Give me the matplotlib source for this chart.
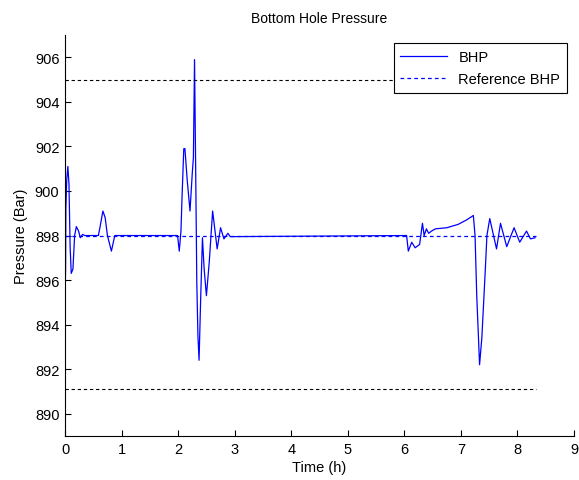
import numpy as np
import matplotlib
matplotlib.use("Agg")
import matplotlib.pyplot as plt

plt.rcParams["font.family"] = ["Liberation Sans", "DejaVu Sans"]

# BHP trace (time in h, pressure in bar)
time_h = [
    0.00, 0.01, 0.015, 0.03, 0.05, 0.07, 0.09, 0.11, 0.14, 0.17, 0.20, 0.24,
    0.27, 0.31, 0.35, 0.59, 0.62, 0.67, 0.71, 0.75, 0.82, 0.88, 1.99, 2.02,
    2.05, 2.07, 2.10, 2.12, 2.16, 2.21, 2.25, 2.27, 2.29, 2.31, 2.33, 2.35,
    2.37, 2.40, 2.43, 2.46, 2.50, 2.55, 2.61, 2.69, 2.75, 2.81, 2.88, 2.92,
    6.04, 6.07, 6.13, 6.19, 6.27, 6.32, 6.35, 6.39, 6.43, 6.48, 6.55, 6.75,
    6.95, 7.10, 7.22, 7.25, 7.28, 7.33, 7.37, 7.43, 7.46, 7.51, 7.63, 7.70,
    7.81, 7.94, 8.04, 8.16, 8.23, 8.31,
]
bhp = [
    895.3, 896.5, 899.2, 900.5, 901.1, 900.3, 897.5, 896.3, 896.5, 898.0, 898.4, 898.2,
    897.9, 898.05, 898.0, 898.0, 898.4, 899.1, 898.8, 898.0, 897.3, 898.0, 898.0, 897.3,
    898.2, 899.8, 901.9, 901.9, 900.5, 899.1, 900.8, 901.5, 905.9, 901.0, 895.9, 893.5,
    892.4, 895.3, 897.9, 896.5, 895.3, 896.8, 899.1, 897.4, 898.35, 897.85, 898.1, 897.95,
    898.0, 897.3, 897.7, 897.45, 897.6, 898.55, 898.0, 898.3, 898.1, 898.2, 898.3, 898.35,
    898.5, 898.7, 898.9, 898.0, 895.3, 892.2, 893.4, 896.4, 898.0, 898.76, 897.4, 898.55,
    897.5, 898.35, 897.7, 898.2, 897.85, 897.9,
]

t_end = 8.33
bhp_ref = 898.0
upper_limit = 905.0
lower_limit = 891.1

fig = plt.figure(figsize=(5.79, 4.81), dpi=100)
ax = fig.add_axes([0.1123, 0.0915, 0.8791, 0.8335])

ax.plot(time_h, bhp, color="#0000ff", lw=0.9, label="BHP")
ax.plot([0, t_end], [bhp_ref, bhp_ref], color="#0000ff", lw=0.9,
        dashes=(3, 2.5), label="Reference BHP")
ax.plot([0, t_end], [upper_limit, upper_limit], color="black", lw=0.8, dashes=(3, 2.5))
ax.plot([0, t_end], [lower_limit, lower_limit], color="black", lw=0.8, dashes=(3, 2.5))

ax.set_xlim(0, 9)
ax.set_ylim(889, 907)
ax.set_xticks(np.arange(0, 10, 1))
ax.set_yticks(np.arange(890, 907, 2))
ax.tick_params(direction="in", length=4, width=0.8, labelsize=10.5, pad=4)
for side in ("top", "right"):
    ax.spines[side].set_visible(False)
for side in ("left", "bottom"):
    ax.spines[side].set_linewidth(0.8)

ax.set_title("Bottom Hole Pressure", fontsize=10, pad=9.5)
ax.set_xlabel("Time (h)", fontsize=10.5, labelpad=3)
ax.set_ylabel("Pressure (Bar)", fontsize=10.5, labelpad=5)

leg = ax.legend(loc="upper right", bbox_to_anchor=(0.986, 0.98), borderaxespad=0,
                fontsize=10.5, fancybox=False, framealpha=1, edgecolor="black",
                handlelength=3.2, borderpad=0.45, labelspacing=0.6)
leg.get_frame().set_linewidth(0.8)

fig.savefig("out.png", dpi=100)
